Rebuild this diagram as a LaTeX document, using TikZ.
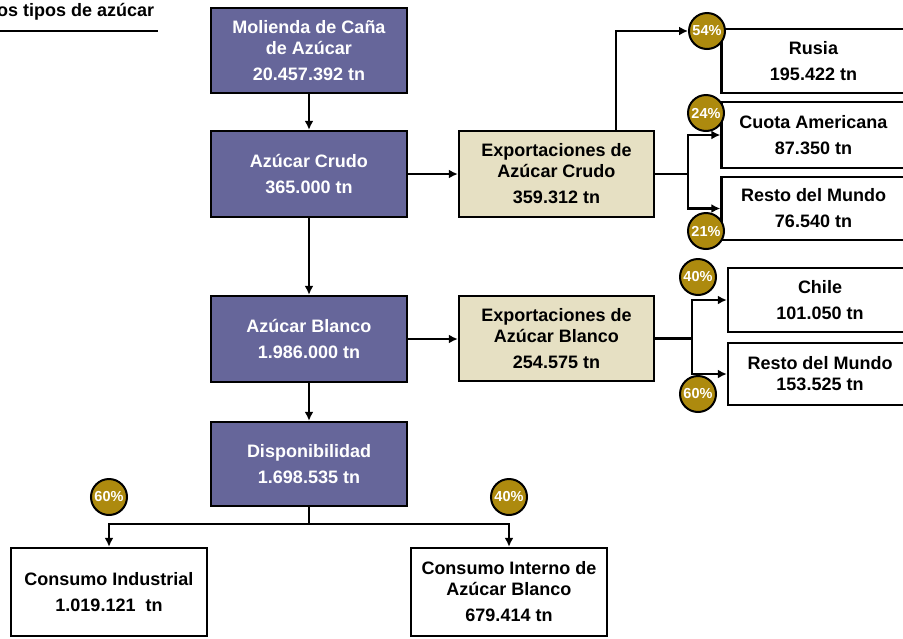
\documentclass[tikz,border=0pt]{standalone}
\usepackage{fontspec}
\setmainfont{Liberation Sans}
\usetikzlibrary{arrows.meta,calc}
\definecolor{cana}{HTML}{66669A}
\definecolor{export}{HTML}{E6E0C3}
\definecolor{share}{HTML}{AD8A0E}
\def\BoxW{196pt}
\def\BoxH{86pt}
\def\DestW{184pt}
\def\DestH{64pt}

\begin{document}
\begin{tikzpicture}[
  x=1pt, y=-1pt, >={Latex[length=9pt,width=9pt]}, line join=miter,
  every node/.style={font=\bfseries\fontsize{18}{21}\selectfont},
  flow/.style ={line width=2.2pt},
  stage/.style={draw, line width=2.4pt, fill=cana, text=white, align=center,
                minimum width=\BoxW, minimum height=\BoxH, inner sep=0pt},
  expbox/.style={stage, fill=export, text=black, minimum width=195pt},
  dest/.style ={draw, line width=2.4pt, fill=white, text=black, align=center,
                minimum width=\DestW, minimum height=\DestH, inner sep=0pt},
  pct/.style  ={circle, draw, line width=2pt, fill=share, text=white,
                minimum size=36pt, inner sep=0pt,
                font=\bfseries\fontsize{14.5}{14.5}\selectfont}
]
\useasboundingbox (0,0) rectangle (903,638);

% --- Title --------------------------------------------------------------
\node[anchor=west, inner sep=0pt] (titulo) at (-3,12) {os tipos de azúcar};
\draw[flow] (0,31) -- (158,31);

% --- Main chain ---------------------------------------------------------
\node[stage, minimum height=85pt] (moli) at (309,50.5)
  {Molienda de Caña\\de Azúcar\\[5pt]20.457.392 tn};
\node[stage] (crudo)  at (309,174) {Azúcar Crudo\\[5pt]365.000 tn};
\node[stage] (blanco) at (309,339) {Azúcar Blanco\\[5pt]1.986.000 tn};
\node[stage, minimum height=84pt] (disp) at (309,464)
  {Disponibilidad\\[5pt]1.698.535 tn};

\draw[flow,->] (moli) -- (crudo);
\draw[flow,->] (crudo) -- (blanco);
\draw[flow,->] (blanco) -- (disp);

% --- Exports ------------------------------------------------------------
\node[expbox] (expcrudo) at (556.5,174)
  {Exportaciones de\\Azúcar Crudo\\[5pt]359.312 tn};
\node[expbox, minimum height=85pt] (expblanco) at (556.5,338.5)
  {Exportaciones de\\Azúcar Blanco\\[5pt]254.575 tn};

\draw[flow,->] (crudo.east) -- (crudo.east -| expcrudo.west);
\draw[flow,->] (blanco.east) -- (blanco.east -| expblanco.west);

% --- Destinations of raw sugar ------------------------------------------
\node[dest] (rusia)  at (813.5,61)    {Rusia\\[5pt]195.422 tn};
\node[dest, minimum height=66pt] (cuota)  at (813.5,135)
  {Cuota Americana\\[5pt]87.350 tn};
\node[dest, minimum height=63pt] (resto1) at (813.5,208.5)
  {Resto del Mundo\\[5pt]76.540 tn};

\node[pct] (p54) at (707,31)  {54\%};
\node[pct] (p24) at (706,113) {24\%};
\node[pct] (p21) at (706,231) {21\%};

\draw[flow,->] ($(expcrudo.north)+(59.5,0)$) |- (p54.west);
\coordinate (jc) at ($(expcrudo.east)+(33,0)$);
\draw[flow] (expcrudo.east) -- (jc);
\draw[flow,->] (jc) |- (cuota.west);
\draw[flow,->] (jc) |- (resto1.west);

% --- Destinations of white sugar ----------------------------------------
\node[dest] (chile)  at (820,300) {Chile\\[5pt]101.050 tn};
\node[dest, minimum height=62pt] (resto2) at (820,374)
  {Resto del Mundo\\153.525 tn};

\node[pct] (p40b) at (698,277) {40\%};
\node[pct] (p60b) at (698,394) {60\%};

\coordinate (jb) at ($(expblanco.east)+(37,0)$);
\draw[flow] (expblanco.east) -- (jb);
\draw[flow,->] (jb) |- (chile.west);
\draw[flow,->] (jb) |- (resto2.west);

% --- Domestic use -------------------------------------------------------
\node[dest, minimum width=\BoxW, minimum height=88pt] (industrial) at (109,592)
  {Consumo Industrial\\[5pt]1.019.121~~tn};
\node[dest, minimum width=\BoxW, minimum height=88pt] (interno) at (509,592)
  {Consumo Interno de\\Azúcar Blanco\\[5pt]679.414 tn};

\node[pct] (p60a) at (109,497) {60\%};
\node[pct] (p40a) at (509,497) {40\%};

\coordinate (jd) at ($(disp.south)+(0,17)$);
\draw[flow] (disp.south) -- (jd);
\draw[flow,->] (jd) -| (industrial.north);
\draw[flow,->] (jd) -| (interno.north);

\end{tikzpicture}
\end{document}
